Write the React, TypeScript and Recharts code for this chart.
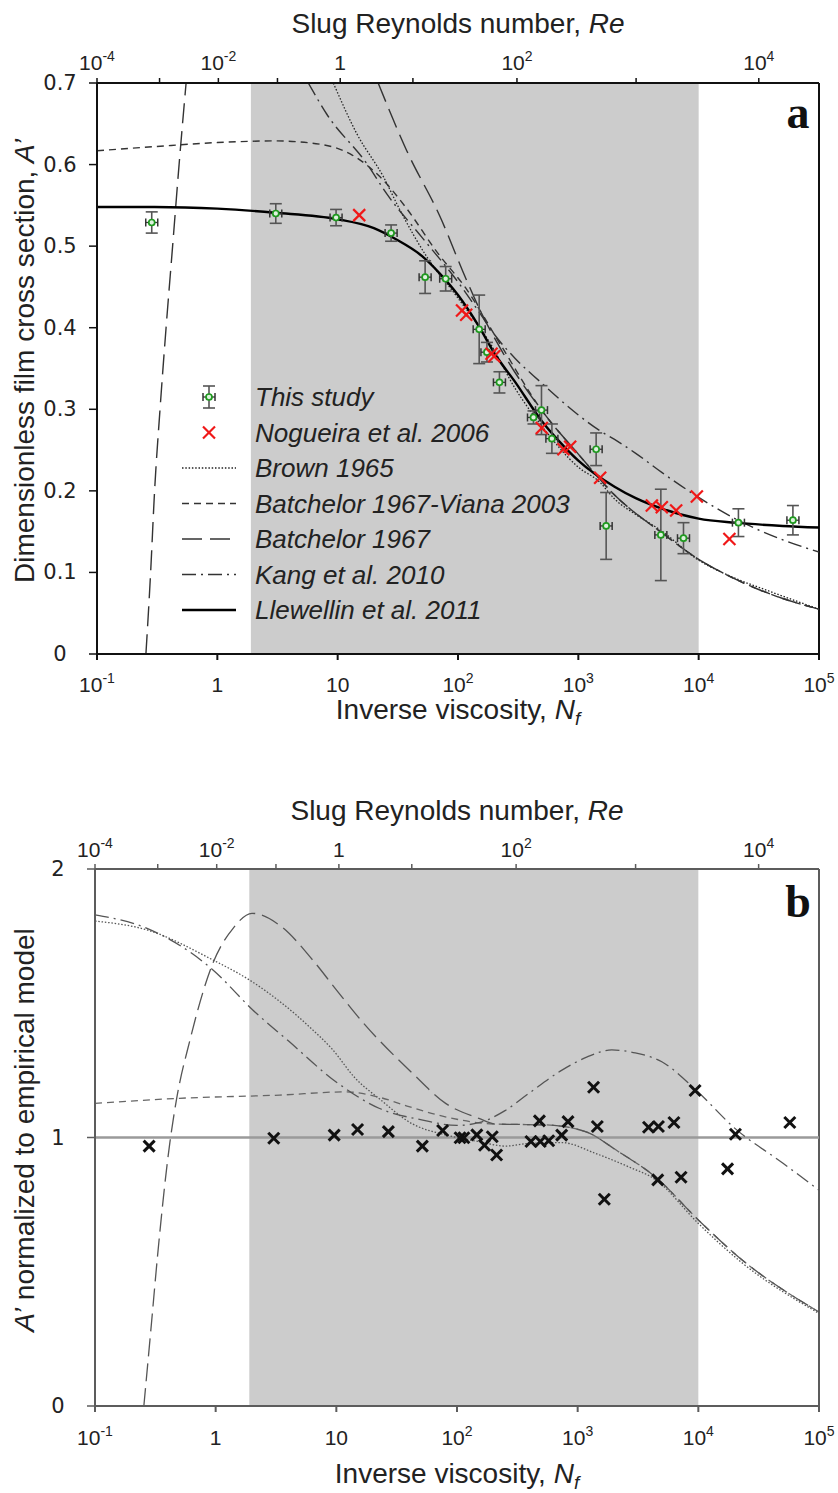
import React from "react";
import {
  ComposedChart,
  Line,
  Scatter,
  XAxis,
  YAxis,
  ReferenceArea,
  ReferenceLine,
  ErrorBar,
} from "recharts";

const SANS = "'Liberation Sans', Arial, Helvetica, sans-serif";
const WIDE = "'DejaVu Sans', Verdana, sans-serif";
const SERIF = "'Liberation Serif', 'DejaVu Serif', serif";

// bottom axis: inverse viscosity Nf
const nfTicks = [0.1, 1, 10, 100, 1e3, 1e4, 1e5];
const nfLabels = ["10^-1", "1", "10", "10^2", "10^3", "10^4", "10^5"];
// top axis: slug Reynolds number, each decade placed at the Nf where it falls
const reTickNf = [0.1, 0.331, 1.02, 3.16, 10.5, 42.2, 309, 3020, 31600];
const reLabels = ["10^-4", "", "10^-2", "", "1", "", "10^2", "", "10^4"];
// grey band (range covered by this study)
const shaded = [1.9, 1e4];

const aTicks = [0, 0.1, 0.2, 0.3, 0.4, 0.5, 0.6, 0.7];
const bTicks = [0, 1, 2];

const legendNames = [
  "This study",
  "Nogueira et al. 2006",
  "Brown 1965",
  "Batchelor 1967-Viana 2003",
  "Batchelor 1967",
  "Kang et al. 2010",
  "Llewellin et al. 2011",
];

// ---- panel a ----
// [Nf, A', error]
const thisStudy = [
  [0.285, 0.529, 0.013],
  [3.06, 0.54, 0.012],
  [9.7, 0.535, 0.01],
  [27.8, 0.516, 0.01],
  [53.3, 0.462, 0.02],
  [79, 0.46, 0.015],
  [150, 0.398, 0.042],
  [174, 0.37, 0.012],
  [221, 0.333, 0.013],
  [424, 0.29, 0.008],
  [494, 0.299, 0.03],
  [603, 0.264, 0.018],
  [1406, 0.251, 0.02],
  [1703, 0.157, 0.041],
  [4850, 0.146, 0.056],
  [7480, 0.142, 0.019],
  [21400, 0.161, 0.017],
  [60700, 0.164, 0.018],
];
// [Nf, A']
const nogueira = [
  [15.1, 0.538],
  [108, 0.421],
  [117, 0.416],
  [190, 0.368],
  [200, 0.365],
  [497, 0.277],
  [752, 0.251],
  [855, 0.254],
  [1518, 0.216],
  [4083, 0.182],
  [4940, 0.18],
  [6500, 0.176],
  [9660, 0.193],
  [18000, 0.141],
];

const llewellinA = [
  [0.1, 0.548], [0.3, 0.548], [1, 0.546], [3, 0.541], [10, 0.533], [20, 0.522],
  [30, 0.509], [50, 0.488], [70, 0.467], [100, 0.44], [150, 0.401], [200, 0.369],
  [300, 0.333], [500, 0.285], [700, 0.26], [1000, 0.237], [2000, 0.205], [3000, 0.191],
  [5000, 0.178], [1e4, 0.166], [2e4, 0.161], [5e4, 0.157], [1e5, 0.155],
];
const brownA = [
  [9.2, 0.7], [14.4, 0.638], [24, 0.585], [33, 0.544], [55, 0.487], [98, 0.438],
  [185, 0.381], [300, 0.325], [500, 0.279], [1000, 0.229], [1500, 0.211], [2000, 0.19],
  [3000, 0.171], [4800, 0.152], [1e4, 0.115], [2e4, 0.093], [3.7e4, 0.078], [1e5, 0.055],
];
const vianaA = [
  [0.1, 0.617], [0.3, 0.622], [1, 0.627], [3, 0.629], [7.1, 0.625], [12.7, 0.613],
  [22.5, 0.585], [37.5, 0.546], [66.7, 0.493], [118, 0.447], [224, 0.38], [500, 0.298],
  [1000, 0.245], [2000, 0.195], [5000, 0.148], [1e4, 0.116], [2e4, 0.092], [5e4, 0.068],
  [1e5, 0.055],
];
const batchelorLowA = [
  [0.255, 0], [0.279, 0.1], [0.301, 0.2], [0.334, 0.3], [0.375, 0.4], [0.425, 0.5],
  [0.481, 0.6], [0.55, 0.7],
];
const batchelorHighA = [
  [21.7, 0.7], [37.5, 0.617], [71, 0.536], [118, 0.458], [153, 0.421], [239, 0.368],
  [500, 0.298], [1000, 0.245], [2000, 0.195], [5000, 0.148], [1e4, 0.116], [2e4, 0.092],
  [5e4, 0.068], [1e5, 0.055],
];
const kangA = [
  [5.7, 0.7], [8.1, 0.662], [17.5, 0.601], [25.6, 0.564], [50, 0.511], [100, 0.456],
  [150, 0.419], [200, 0.392], [300, 0.362], [480, 0.334], [1000, 0.293], [1500, 0.274],
  [2000, 0.263], [3000, 0.246], [5000, 0.222], [1e4, 0.192], [2e4, 0.166], [5e4, 0.14],
  [1e5, 0.125],
];

// ---- panel b: everything divided by the empirical model ----
const normalised = [
  [0.281, 0.968], [3.03, 0.997], [9.6, 1.009], [15, 1.03], [27, 1.022], [51.6, 0.968],
  [76, 1.026], [106, 0.999], [114, 0.999], [146, 1.01], [169, 0.971], [196, 1.003],
  [213, 0.935], [410, 0.985], [482, 1.062], [490, 0.985], [575, 0.988], [737, 1.009],
  [832, 1.059], [1355, 1.187], [1455, 1.041], [1663, 0.77], [3865, 1.038], [4670, 1.041],
  [4610, 0.842], [6280, 1.056], [7190, 0.852], [9400, 1.175], [17460, 0.883],
  [20300, 1.012], [57300, 1.056],
];
const brownB = [
  [0.1, 1.806], [0.27, 1.773], [0.95, 1.661], [1.9, 1.587], [6.4, 1.4], [9.2, 1.33],
  [14.4, 1.22], [22.6, 1.145], [43, 1.05], [80, 1.01], [150, 0.985], [251, 0.968],
  [393, 0.978], [741, 0.981], [1400, 0.941], [2640, 0.891], [4385, 0.844], [1e4, 0.68],
  [21400, 0.545], [1e5, 0.345],
];
const vianaB = [
  [0.1, 1.127], [0.5, 1.146], [3.4, 1.158], [12, 1.17], [22.6, 1.15], [40, 1.115],
  [80, 1.077], [209, 1.05], [541, 1.047], [1159, 1.022], [2183, 0.947], [4385, 0.854],
  [1e4, 0.693], [21400, 0.556], [1e5, 0.35],
];
const batchelorB = [
  [0.254, 0], [0.294, 0.31], [0.33, 0.56], [0.417, 0.98], [0.473, 1.14], [0.61, 1.36],
  [0.95, 1.65], [1.4, 1.78], [2.0, 1.835], [3.4, 1.79], [6.37, 1.661], [10, 1.55],
  [16.5, 1.43], [42.8, 1.239], [80.5, 1.127], [152, 1.071], [209, 1.05], [541, 1.047],
  [1159, 1.022], [2183, 0.947], [4385, 0.854], [1e4, 0.693], [21400, 0.556], [1e5, 0.35],
];
const kangB = [
  [0.1, 1.829], [0.27, 1.779], [0.95, 1.624], [2.03, 1.475], [4, 1.36], [9.9, 1.208],
  [22.6, 1.109], [52, 1.065], [100, 1.045], [152, 1.055], [250, 1.1], [393, 1.164],
  [741, 1.251], [1200, 1.3], [1919, 1.326], [3000, 1.315], [4980, 1.282], [9400, 1.18],
  [20100, 1.034], [5e4, 0.905], [1e5, 0.804],
];

const pts = (arr: number[][]) => arr.map(([x, y, e]) => ({ x, y, e }));

const INK_A = "#111";
const INK_B = "#5c5c5c";

const curveA = {
  brown: { stroke: "#222", strokeDasharray: "1.5 1.8", strokeWidth: 1.3 },
  viana: { stroke: "#333", strokeDasharray: "7 5", strokeWidth: 1.4 },
  batchelor: { stroke: "#333", strokeDasharray: "20 8", strokeWidth: 1.4 },
  kang: { stroke: "#333", strokeDasharray: "14 5 2 5", strokeWidth: 1.4 },
  llewellin: { stroke: "#000", strokeWidth: 2.4 },
};
const curveB = {
  brown: { stroke: "#555", strokeDasharray: "1.5 1.8", strokeWidth: 1.3 },
  viana: { stroke: "#666", strokeDasharray: "7 5", strokeWidth: 1.3 },
  batchelor: { stroke: "#555", strokeDasharray: "18 7", strokeWidth: 1.3 },
  kang: { stroke: "#555", strokeDasharray: "14 5 2 5", strokeWidth: 1.3 },
};

function findLabel(value: number, ticks: number[], labels: string[]) {
  const i = ticks.findIndex((t) => Math.abs(t - value) / t < 1e-6);
  return i < 0 ? "" : labels[i];
}

function PowerTick(props: any) {
  const { x, y, payload, ticks, labels, dy } = props;
  const label = findLabel(payload.value, ticks, labels);
  if (!label) return null;
  const [base, exp] = label.split("^");
  return (
    <text x={x} y={y + dy} textAnchor="middle" fontSize={21} fontFamily={SANS} fill="#222">
      {base}
      {exp ? (
        <tspan dy={-9} fontSize={14}>
          {exp}
        </tspan>
      ) : null}
    </text>
  );
}

function NumTick(props: any) {
  const { x, y, payload } = props;
  const v = payload.value;
  const txt = v === 0 ? "0" : Number.isInteger(v) ? String(v) : v.toFixed(1);
  return (
    <text x={x - 27} y={y + 7} textAnchor="middle" fontSize={21} fontFamily={WIDE} fill="#222">
      {txt}
    </text>
  );
}

function GreenMark({ cx, cy }: { cx: number; cy: number }) {
  return (
    <g>
      <line x1={cx - 6} x2={cx + 6} y1={cy} y2={cy} stroke="#333" strokeWidth={1.3} />
      <line x1={cx - 6} x2={cx - 6} y1={cy - 4} y2={cy + 4} stroke="#333" strokeWidth={1.5} />
      <line x1={cx + 6} x2={cx + 6} y1={cy - 4} y2={cy + 4} stroke="#333" strokeWidth={1.5} />
      <circle cx={cx} cy={cy} r={3} fill="#dff2df" stroke="#1f9a1f" strokeWidth={1.7} />
    </g>
  );
}

function Cross({ cx, cy, size, color, width }: any) {
  return (
    <g stroke={color} strokeWidth={width} strokeLinecap="butt">
      <line x1={cx - size} y1={cy - size} x2={cx + size} y2={cy + size} />
      <line x1={cx - size} y1={cy + size} x2={cx + size} y2={cy - size} />
    </g>
  );
}

function axes(ink: string, yTicks: number[], yMax: number, yWidth: number, topDy: number, botDy: number) {
  return [
    <XAxis
      key="xb"
      dataKey="x"
      type="number"
      scale="log"
      domain={[0.1, 1e5]}
      allowDataOverflow
      ticks={nfTicks}
      interval={0}
      height={40}
      tickSize={6}
      axisLine={{ stroke: ink, strokeWidth: 2 }}
      tickLine={{ stroke: ink, strokeWidth: 2 }}
      tick={(p: any) => <PowerTick {...p} ticks={nfTicks} labels={nfLabels} dy={botDy} />}
    />,
    <XAxis
      key="xt"
      xAxisId="top"
      orientation="top"
      dataKey="x"
      type="number"
      scale="log"
      domain={[0.1, 1e5]}
      allowDataOverflow
      ticks={reTickNf}
      interval={0}
      height={43}
      tickSize={5}
      axisLine={{ stroke: ink, strokeWidth: 2 }}
      tickLine={{ stroke: ink, strokeWidth: 1.5 }}
      tick={(p: any) => <PowerTick {...p} ticks={reTickNf} labels={reLabels} dy={topDy} />}
    />,
    <YAxis
      key="yl"
      dataKey="y"
      type="number"
      domain={[0, yMax]}
      allowDataOverflow
      ticks={yTicks}
      interval={0}
      width={yWidth}
      tickSize={8}
      axisLine={{ stroke: ink, strokeWidth: 2 }}
      tickLine={{ stroke: ink, strokeWidth: 1.5 }}
      tick={(p: any) => <NumTick {...p} />}
    />,
  ];
}

function curve(key: string, data: number[][], style: any) {
  return (
    <Line
      key={key}
      data={pts(data)}
      dataKey="y"
      type="monotone"
      dot={false}
      activeDot={false}
      isAnimationActive={false}
      {...style}
    />
  );
}

function PanelA() {
  return (
    <ComposedChart width={838} height={740} margin={{ top: 40, right: 19, bottom: 46, left: 0 }}>
      {axes(INK_A, aTicks, 0.7, 97, -6, 30)}
      <ReferenceArea x1={shaded[0]} x2={shaded[1]} fill="#cccccc" fillOpacity={1} stroke="none" ifOverflow="hidden" />
      <ReferenceLine x={1e5} stroke={INK_A} strokeWidth={2} ifOverflow="visible" />
      {curve("brown", brownA, curveA.brown)}
      {curve("viana", vianaA, curveA.viana)}
      {curve("batLow", batchelorLowA, curveA.batchelor)}
      {curve("batHigh", batchelorHighA, curveA.batchelor)}
      {curve("kang", kangA, curveA.kang)}
      {curve("llew", llewellinA, curveA.llewellin)}
      <Scatter
        data={pts(thisStudy)}
        isAnimationActive={false}
        shape={(p: any) => <GreenMark cx={p.cx} cy={p.cy} />}
      >
        <ErrorBar dataKey="e" direction="y" width={6} stroke="#555" strokeWidth={1.6} />
      </Scatter>
      <Scatter
        data={pts(nogueira)}
        isAnimationActive={false}
        shape={(p: any) => <Cross cx={p.cx} cy={p.cy} size={6} color="#f01818" width={2.2} />}
      />
    </ComposedChart>
  );
}

function PanelB() {
  return (
    <ComposedChart width={838} height={733} margin={{ top: 66, right: 19, bottom: 47, left: 0 }}>
      {axes(INK_B, bTicks, 2, 95, -5, 31)}
      <ReferenceArea x1={shaded[0]} x2={shaded[1]} fill="#cccccc" fillOpacity={1} stroke="none" ifOverflow="hidden" />
      <ReferenceLine x={1e5} stroke={INK_B} strokeWidth={2} ifOverflow="visible" />
      <ReferenceLine y={1} stroke="#9a9a9a" strokeWidth={2.5} />
      {curve("brownB", brownB, curveB.brown)}
      {curve("vianaB", vianaB, curveB.viana)}
      {curve("batB", batchelorB, curveB.batchelor)}
      {curve("kangB", kangB, curveB.kang)}
      <Scatter
        data={pts(normalised)}
        isAnimationActive={false}
        shape={(p: any) => <Cross cx={p.cx} cy={p.cy} size={5.5} color="#111" width={3} />}
      />
    </ComposedChart>
  );
}

function LegendSymbol({ i, cx, cy }: { i: number; cx: number; cy: number }) {
  const x1 = cx - 27;
  const x2 = cx + 27;
  if (i === 0)
    return (
      <g>
        <line x1={cx} x2={cx} y1={cy - 11} y2={cy + 11} stroke="#555" strokeWidth={1.6} />
        <line x1={cx - 6} x2={cx + 6} y1={cy - 11} y2={cy - 11} stroke="#555" strokeWidth={1.6} />
        <line x1={cx - 6} x2={cx + 6} y1={cy + 11} y2={cy + 11} stroke="#555" strokeWidth={1.6} />
        <GreenMark cx={cx} cy={cy} />
      </g>
    );
  if (i === 1) return <Cross cx={cx} cy={cy} size={6} color="#f01818" width={2.2} />;
  const styles = [null, null, curveA.brown, curveA.viana, curveA.batchelor, curveA.kang, curveA.llewellin];
  return <line x1={x1} x2={x2} y1={cy} y2={cy} {...(styles[i] as any)} />;
}

function Overlay() {
  const title = { fontFamily: SANS, fontSize: 28, fill: "#222" } as const;
  return (
    <svg
      width={838}
      height={1493}
      style={{ position: "absolute", left: 0, top: 0, pointerEvents: "none" }}
    >
      {/* panel a */}
      <text x={458} y={33} textAnchor="middle" {...title}>
        Slug Reynolds number, <tspan fontStyle="italic">Re</tspan>
      </text>
      <text x={458} y={719} textAnchor="middle" {...title}>
        Inverse viscosity, <tspan fontStyle="italic">N</tspan>
        <tspan fontStyle="italic" fontSize={19} dy={6}>
          f
        </tspan>
      </text>
      <text transform="translate(34,361) rotate(-90)" textAnchor="middle" {...title}>
        Dimensionless film cross section, <tspan fontStyle="italic">A’</tspan>
      </text>
      <text x={798} y={128} textAnchor="middle" fontFamily={SERIF} fontWeight="bold" fontSize={46} fill="#111">
        a
      </text>
      {legendNames.map((name, i) => {
        const cy = 397 + i * 35.5;
        return (
          <g key={name}>
            <LegendSymbol i={i} cx={209} cy={cy} />
            <text x={255} y={cy + 9} fontFamily={SANS} fontStyle="italic" fontSize={26} fill="#222">
              {name}
            </text>
          </g>
        );
      })}

      {/* panel b */}
      <text x={457} y={820} textAnchor="middle" {...title}>
        Slug Reynolds number, <tspan fontStyle="italic">Re</tspan>
      </text>
      <text x={457} y={1483} textAnchor="middle" {...title}>
        Inverse viscosity, <tspan fontStyle="italic">N</tspan>
        <tspan fontStyle="italic" fontSize={19} dy={6}>
          f
        </tspan>
      </text>
      <text transform="translate(34,1130) rotate(-90)" textAnchor="middle" {...title}>
        <tspan fontStyle="italic">A’</tspan> normalized to empirical model
      </text>
      <text x={798} y={917} textAnchor="middle" fontFamily={SERIF} fontWeight="bold" fontSize={46} fill="#111">
        b
      </text>
    </svg>
  );
}

export default function App() {
  return (
    <div
      style={{
        position: "absolute",
        left: 0,
        top: 0,
        width: 838,
        height: 1493,
        background: "#fff",
        overflow: "hidden",
      }}
    >
      <div style={{ position: "absolute", left: 0, top: 0 }}>
        <PanelA />
      </div>
      <div style={{ position: "absolute", left: 0, top: 760 }}>
        <PanelB />
      </div>
      <Overlay />
    </div>
  );
}
